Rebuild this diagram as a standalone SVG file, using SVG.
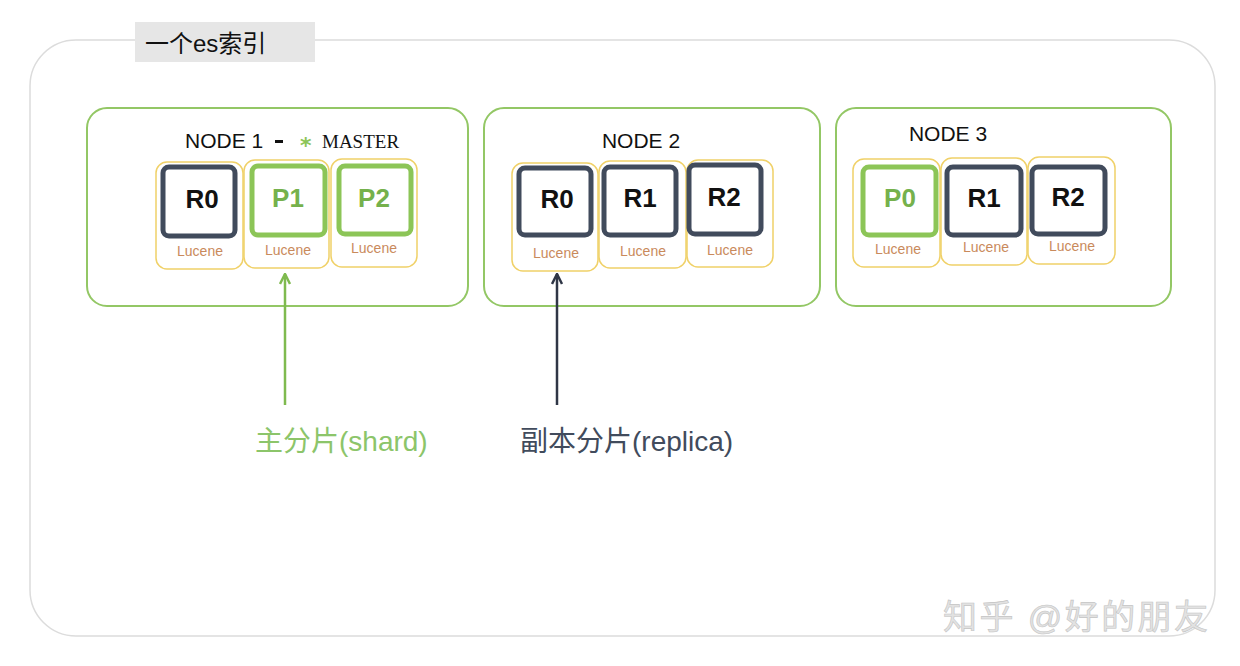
<svg xmlns="http://www.w3.org/2000/svg" width="1240" height="666" viewBox="0 0 1240 666">
<style>
.node{fill:#fff;stroke:#93c765;stroke-width:2}
.luc{fill:#fff;stroke:#f0d168;stroke-width:1.5}
.sq{fill:#fff;stroke-width:5}
.rep{stroke:#414b5c}
.pri{stroke:#8cc557}
.lbl{font-family:"Liberation Sans",Arial,sans-serif;font-weight:bold;font-size:26px;text-anchor:middle}
.lucT{font-family:"Liberation Sans",Arial,sans-serif;font-size:14px;fill:#c98a5c;text-anchor:middle}
.nt{font-family:"Liberation Sans",Arial,sans-serif;font-size:21px}
.cjk{font-family:"Liberation Sans","Noto Sans CJK SC",sans-serif}
</style>
<defs>
<marker id="ag" viewBox="0 0 10 10" refX="9" refY="5" markerWidth="5" markerHeight="5" orient="auto-start-reverse" markerUnits="strokeWidth">
<path d="M1,1 L9,5 L1,9" fill="none" stroke="#7fba4f" stroke-width="2"/>
</marker>
<marker id="ad" viewBox="0 0 10 10" refX="9" refY="5" markerWidth="5" markerHeight="5" orient="auto-start-reverse" markerUnits="strokeWidth">
<path d="M1,1 L9,5 L1,9" fill="none" stroke="#2f3646" stroke-width="2"/>
</marker>
</defs>
<rect width="1240" height="666" fill="#fff"/>
<g id="index">
<rect x="30" y="40" width="1185" height="596" rx="46" fill="none" stroke="#dcdcdc" stroke-width="1.5"/>
<rect x="135" y="22" width="180" height="40" fill="#e6e6e6"/>
<text x="145" y="52" class="cjk" font-size="24" fill="#111">一个es索引</text>
</g>
<g id="node1">
<rect x="87" y="108" width="381" height="198" rx="20" class="node"/>
<text x="185" y="148" class="nt" fill="#111">NODE 1</text>
<rect x="275" y="140" width="8" height="3" fill="#111"/>
<text x="300" y="153" font-family="DejaVu Sans,sans-serif" style="font-size:22px;font-weight:bold" fill="#8cc557">*</text>
<text x="322" y="148" font-family="Liberation Serif,serif" font-size="19" fill="#111">MASTER</text>
<rect x="156" y="162" width="87" height="107" rx="11" class="luc"/>
<rect x="244" y="160" width="85" height="108" rx="11" class="luc"/>
<rect x="331" y="159" width="86" height="108" rx="11" class="luc"/>
<rect x="163" y="167" width="72" height="69" rx="6" class="sq rep"/>
<rect x="252" y="166" width="73" height="69" rx="6" class="sq pri"/>
<rect x="339" y="166" width="72" height="68" rx="6" class="sq pri"/>
<text x="202" y="208" class="lbl" fill="#111">R0</text>
<text x="288" y="207" class="lbl" fill="#75b14c">P1</text>
<text x="374" y="207" class="lbl" fill="#75b14c">P2</text>
<text x="200" y="256" class="lucT">Lucene</text>
<text x="288" y="255" class="lucT">Lucene</text>
<text x="374" y="253" class="lucT">Lucene</text>
</g>
<g id="node2">
<rect x="484" y="108" width="336" height="198" rx="20" class="node"/>
<text x="641" y="148" class="nt" fill="#111" text-anchor="middle">NODE 2</text>
<rect x="512" y="163" width="86" height="108" rx="11" class="luc"/>
<rect x="599" y="161" width="87" height="107" rx="11" class="luc"/>
<rect x="687" y="160" width="86" height="107" rx="11" class="luc"/>
<rect x="519" y="168" width="72" height="67" rx="6" class="sq rep"/>
<rect x="604" y="167" width="72" height="68" rx="6" class="sq rep"/>
<rect x="689" y="165" width="72" height="69" rx="6" class="sq rep"/>
<text x="557" y="208" class="lbl" fill="#111">R0</text>
<text x="640" y="207" class="lbl" fill="#111">R1</text>
<text x="724" y="206" class="lbl" fill="#111">R2</text>
<text x="556" y="258" class="lucT">Lucene</text>
<text x="643" y="256" class="lucT">Lucene</text>
<text x="730" y="255" class="lucT">Lucene</text>
</g>
<g id="node3">
<rect x="836" y="108" width="335" height="198" rx="20" class="node"/>
<text x="948" y="141" class="nt" fill="#111" text-anchor="middle">NODE 3</text>
<rect x="853" y="159" width="87" height="108" rx="11" class="luc"/>
<rect x="941" y="158" width="86" height="107" rx="11" class="luc"/>
<rect x="1028" y="157" width="87" height="107" rx="11" class="luc"/>
<rect x="863" y="167" width="73" height="68" rx="6" class="sq pri"/>
<rect x="947" y="167" width="74" height="68" rx="6" class="sq rep"/>
<rect x="1032" y="167" width="73" height="67" rx="6" class="sq rep"/>
<text x="900" y="207" class="lbl" fill="#75b14c">P0</text>
<text x="984" y="207" class="lbl" fill="#111">R1</text>
<text x="1068" y="206" class="lbl" fill="#111">R2</text>
<text x="898" y="254" class="lucT">Lucene</text>
<text x="986" y="252" class="lucT">Lucene</text>
<text x="1072" y="251" class="lucT">Lucene</text>
</g>
<g id="connectors">
<line x1="285" y1="405" x2="285" y2="274" stroke="#7fba4f" stroke-width="2.5" marker-end="url(#ag)"/>
<line x1="557" y1="405" x2="557" y2="274" stroke="#2f3646" stroke-width="2.5" marker-end="url(#ad)"/>
</g>
<g id="labels">
<text x="255" y="451" class="cjk" font-size="28" fill="#8cc56a">主分片(shard)</text>
<text x="520" y="451" class="cjk" font-size="28" fill="#414b5c">副本分片(replica)</text>
<text x="943" y="629" class="cjk" font-size="34" fill="#e2e2e2" stroke="#c4c4c4" stroke-width="0.6" textLength="265">知乎 @好的朋友</text>
</g>
</svg>
